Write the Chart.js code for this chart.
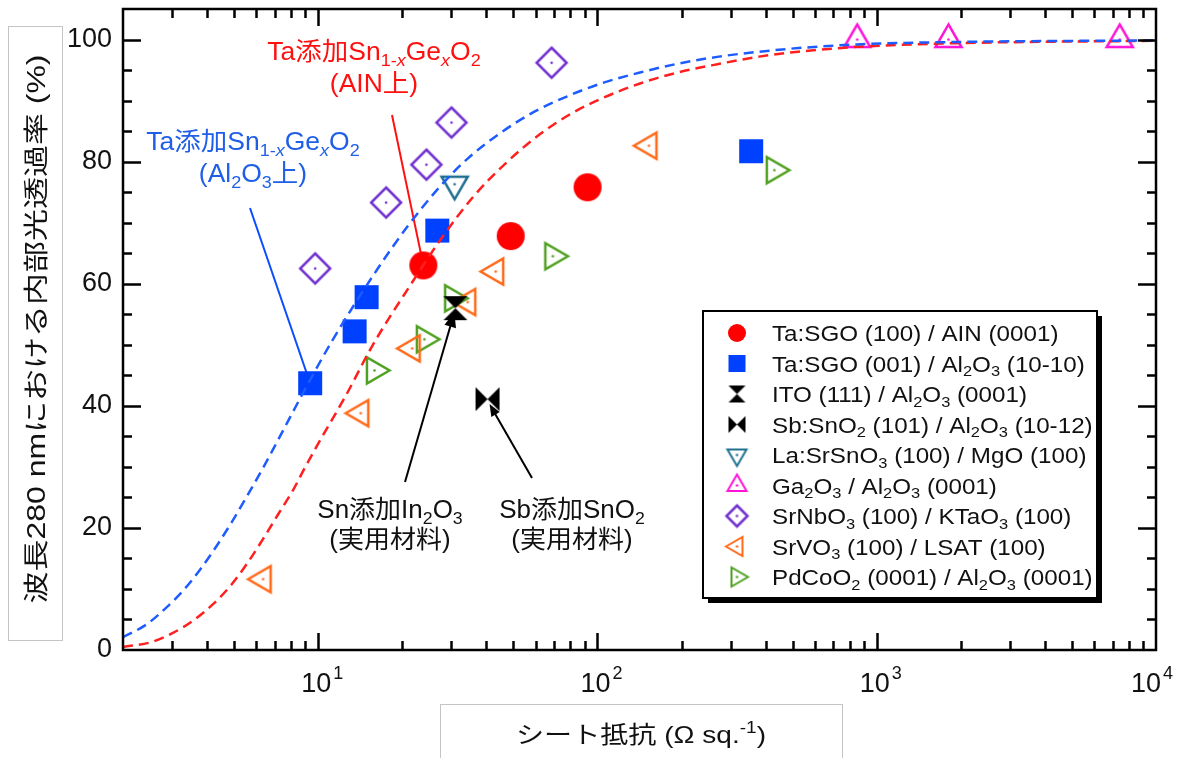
<!DOCTYPE html>
<html>
<head>
<meta charset="utf-8">
<script src="https://cdn.jsdelivr.net/npm/chart.js@4.4.1/dist/chart.umd.min.js"></script>
<style>
  html, body { margin: 0; padding: 0; background: #fff; }
</style>
</head>
<body>
<canvas id="chart" width="1184" height="758"></canvas>
<script>
// ---- data ----
const alnX = [23.8, 48.9, 92.2];
const alnY = [63.0, 67.8, 75.8];
const sapX = [9.36, 13.5, 14.9, 26.7, 355];
const sapY = [43.7, 52.2, 57.8, 68.7, 81.7];
const itoX = [31.0];
const itoY = [56.0];
const atoX = [40.4];
const atoY = [41.1];
const lsoX = [30.8];
const lsoY = [76.3];
const gaX = [851, 1807, 7413];
const gaY = [100, 100, 100];
const snoX = [9.75, 17.5, 24.4, 30.0, 68.5];
const snoY = [62.5, 73.3, 79.5, 86.4, 96.2];
const svoX = [6.35, 14.2, 21.7, 34.3, 43.2, 152.8];
const svoY = [11.6, 38.8, 49.4, 57.0, 62.0, 82.6];
const pcoX = [15.9, 24.0, 30.3, 69.2, 430];
const pcoY = [45.8, 50.9, 57.6, 64.5, 78.6];

// dashed guide curves (read point by point)
const blueCurveX = [2, 2.43, 2.82, 3.28, 3.78, 4.35, 4.91, 5.56, 6.29, 6.9, 7.74, 8.61, 11.3, 16.3, 20.9, 27.4, 34.3, 45, 59, 78, 103, 142, 197, 272, 379, 524, 851, 1930, 10000];
const blueCurveY = [2.1, 4.2, 6.7, 9.7, 13.2, 17.2, 21.0, 25.2, 29.5, 32.9, 37.2, 41.2, 50.9, 62.4, 69.4, 76.0, 80.5, 84.7, 88.1, 90.7, 92.8, 94.6, 96.1, 97.2, 98.0, 98.6, 99.2, 99.6, 99.85];
const redCurveX = [2, 2.53, 3.02, 3.56, 4.2, 4.91, 5.61, 6.35, 7.18, 8.13, 8.97, 10, 11.2, 12.5, 15.7, 21.4, 27.4, 36, 47.6, 62.7, 82.2, 103, 142, 190, 272, 379, 524, 851, 1930, 10000];
const redCurveY = [0.5, 1.3, 2.8, 4.8, 7.5, 10.8, 14.4, 18.2, 22.2, 26.2, 29.9, 33.8, 37.7, 41.5, 50.0, 59.8, 67.2, 74.3, 80.0, 84.6, 88.1, 90.3, 92.8, 94.5, 96.0, 97.2, 98.0, 98.8, 99.4, 99.8];

const legendLabels = [
  'Ta:SGO (100) / AIN (0001)',
  'Ta:SGO (001) / Al_{2}O_{3} (10-10)',
  'ITO (111) / Al_{2}O_{3} (0001)',
  'Sb:SnO_{2} (101) / Al_{2}O_{3} (10-12)',
  'La:SrSnO_{3} (100) / MgO (100)',
  'Ga_{2}O_{3} / Al_{2}O_{3} (0001)',
  'SrNbO_{3} (100) / KTaO_{3} (100)',
  'SrVO_{3} (100) / LSAT (100)',
  'PdCoO_{2} (0001) / Al_{2}O_{3} (0001)'
];

const xDecades = [10, 100, 1000, 10000];
const xDecadeExp = ['1', '2', '3', '4'];
const yLabelTicks = [0, 20, 40, 60, 80, 100];

const FONT = '"Liberation Sans", Arial, "Noto Sans CJK JP", sans-serif';
const C = {
  red: '#ff0000',
  blue: '#0040ff',
  blueDash: '#1f5cff',
  redDash: '#ff1f1f',
  purple: '#7030d0',
  orange: '#ff6a1a',
  green: '#4fa020',
  teal: '#1f7090',
  pink: '#ff14d8',
  blueText: '#1f5fe8'
};

// ---- marker images ----
function marker(kind, color, s) {
  const pad = 4;
  const R = kind.startsWith('tri') ? s * 0.58 : s / 2;
  const n = Math.ceil(2 * R + 2 * pad);
  const cv = document.createElement('canvas');
  cv.width = n; cv.height = n;
  const g = cv.getContext('2d');
  g.translate(n / 2, n / 2);
  g.fillStyle = color;
  g.strokeStyle = color;
  g.lineWidth = s > 20 ? 2.5 : 2;
  const r = s / 2;
  const dot = () => { g.beginPath(); g.arc(0, 0, 1.3, 0, Math.PI * 2); g.fill(); };
  g.beginPath();
  if (kind === 'circle') {
    g.arc(0, 0, r, 0, Math.PI * 2); g.fill();
  } else if (kind === 'square') {
    g.fillRect(-r, -r, s, s);
  } else if (kind === 'hourglass') {
    g.moveTo(-r, -r); g.lineTo(r, -r); g.lineTo(0, 0); g.closePath();
    g.moveTo(-r, r); g.lineTo(r, r); g.lineTo(0, 0); g.closePath();
    g.fill();
  } else if (kind === 'bowtie') {
    g.moveTo(-r, -r); g.lineTo(-r, r); g.lineTo(0, 0); g.closePath();
    g.moveTo(r, -r); g.lineTo(r, r); g.lineTo(0, 0); g.closePath();
    g.fill();
  } else if (kind === 'diamond') {
    g.moveTo(0, -r); g.lineTo(r, 0); g.lineTo(0, r); g.lineTo(-r, 0); g.closePath();
    g.stroke(); dot();
  } else {
    const a0 = { triUp: -90, triDown: 90, triLeft: 180, triRight: 0 }[kind] * Math.PI / 180;
    for (let i = 0; i < 3; i++) {
      const a = a0 + i * 2 * Math.PI / 3;
      if (i === 0) g.moveTo(R * Math.cos(a), R * Math.sin(a));
      else g.lineTo(R * Math.cos(a), R * Math.sin(a));
    }
    g.closePath(); g.stroke(); dot();
  }
  return cv;
}

const series = [
  { x: alnX, y: alnY, kind: 'circle', color: C.red, size: 28, lsize: 18 },
  { x: sapX, y: sapY, kind: 'square', color: C.blue, size: 24, lsize: 17 },
  { x: itoX, y: itoY, kind: 'hourglass', color: '#000', size: 24, lsize: 17 },
  { x: atoX, y: atoY, kind: 'bowtie', color: '#000', size: 24, lsize: 17 },
  { x: lsoX, y: lsoY, kind: 'triDown', color: C.teal, size: 26, lsize: 19 },
  { x: gaX, y: gaY, kind: 'triUp', color: C.pink, size: 26, lsize: 19 },
  { x: snoX, y: snoY, kind: 'diamond', color: C.purple, size: 30, lsize: 21 },
  { x: svoX, y: svoY, kind: 'triLeft', color: C.orange, size: 26, lsize: 19 },
  { x: pcoX, y: pcoY, kind: 'triRight', color: C.green, size: 26, lsize: 19 }
];

const pts = (xs, ys) => xs.map((v, i) => ({ x: v, y: ys[i] }));

// ---- rich text (sub/superscripts) ----
function parseRich(s) {
  const out = [];
  const re = /([_^])\{([^}]*)\}/g;
  let last = 0, m;
  while ((m = re.exec(s))) {
    if (m.index > last) out.push({ t: s.slice(last, m.index), mode: '' });
    const mode = m[1] === '_' ? 'sub' : 'sup';
    // italic x inside subscripts
    m[2].split(/(x)/).filter(Boolean).forEach(t => out.push({ t, mode, it: mode === 'sub' && t === 'x' }));
    last = re.lastIndex;
  }
  if (last < s.length) out.push({ t: s.slice(last), mode: '' });
  return out;
}

function richWidth(ctx, parts, size) {
  let w = 0;
  parts.forEach(p => {
    const fs = p.mode ? size * 0.68 : size;
    ctx.font = (p.it ? 'italic ' : '') + fs + 'px ' + FONT;
    w += ctx.measureText(p.t).width;
  });
  return w;
}

// sx: horizontal stretch; fitW: stretch so the text is exactly that wide
function drawRich(ctx, str, x, y, size, color, align, sx, fitW) {
  const parts = parseRich(str);
  const w = richWidth(ctx, parts, size);
  const k = fitW ? fitW / w : (sx || 1);
  ctx.save();
  ctx.translate(x, y);
  ctx.scale(k, 1);
  let cx = align === 'center' ? -w / 2 : 0;
  ctx.fillStyle = color;
  ctx.textBaseline = 'alphabetic';
  ctx.textAlign = 'left';
  parts.forEach(p => {
    const fs = p.mode ? size * 0.68 : size;
    ctx.font = (p.it ? 'italic ' : '') + fs + 'px ' + FONT;
    const dy = p.mode === 'sub' ? size * 0.22 : p.mode === 'sup' ? -size * 0.4 : 0;
    ctx.fillText(p.t, cx, dy);
    cx += ctx.measureText(p.t).width;
  });
  ctx.restore();
}

function arrow(ctx, x0, y0, x1, y1, color, head) {
  const a = Math.atan2(y1 - y0, x1 - x0);
  ctx.strokeStyle = color;
  ctx.fillStyle = color;
  ctx.lineWidth = 2;
  ctx.beginPath();
  ctx.moveTo(x0, y0);
  ctx.lineTo(x1 - Math.cos(a) * head * 0.8, y1 - Math.sin(a) * head * 0.8);
  ctx.stroke();
  if (head) {
    const bx = x1 - Math.cos(a) * head, by = y1 - Math.sin(a) * head;
    const hw = head * 0.4;
    ctx.beginPath();
    ctx.moveTo(x1, y1);
    ctx.lineTo(bx + Math.sin(a) * hw, by - Math.cos(a) * hw);
    ctx.lineTo(bx - Math.sin(a) * hw, by + Math.cos(a) * hw);
    ctx.closePath();
    ctx.fill();
  }
}

// ---- frame, inner ticks, legend, annotations ----
const decor = {
  id: 'decor',
  beforeDatasetsDraw(chart) {
    const { ctx, scales: { x, y } } = chart;
    ctx.save();
    const pa = { x: x.getPixelForValue(alnX[0]), y: y.getPixelForValue(alnY[0]) };
    const ps = { x: x.getPixelForValue(sapX[0]), y: y.getPixelForValue(sapY[0]) };
    arrow(ctx, 392, 115, pa.x, pa.y, '#ff1010', 0);
    arrow(ctx, 250, 208, ps.x, ps.y, '#0a4cff', 0);
    ctx.restore();
  },
  afterDatasetsDraw(chart) {
    const { ctx, chartArea: a, scales: { x, y } } = chart;
    ctx.save();
    // arrows to the reference materials
    const pi = { x: x.getPixelForValue(itoX[0]), y: y.getPixelForValue(itoY[0]) };
    const pb = { x: x.getPixelForValue(atoX[0]), y: y.getPixelForValue(atoY[0]) };
    arrow(ctx, 405, 482, pi.x - 1, pi.y + 4, '#000', 15);
    arrow(ctx, 532, 478, pb.x + 2, pb.y + 5, '#000', 12);

    ctx.strokeStyle = '#000';
    ctx.lineWidth = 2.5;
    ctx.strokeRect(a.left, a.top, a.right - a.left, a.bottom - a.top);
    ctx.beginPath();
    for (let v = 5; v < 105; v += 5) {
      const py = Math.round(y.getPixelForValue(v)) + 0.5;
      const len = v % 20 === 0 ? 18 : 9;
      ctx.moveTo(a.left, py); ctx.lineTo(a.left + len, py);
      ctx.moveTo(a.right, py); ctx.lineTo(a.right - len, py);
    }
    for (let d = 1; d <= 1000; d *= 10) {
      for (let k = 1; k <= 9; k++) {
        const v = d * k;
        if (v <= 2 || v >= 10000) continue;
        const px = Math.round(x.getPixelForValue(v)) + 0.5;
        const len = k === 1 ? 17 : 9;
        ctx.moveTo(px, a.bottom); ctx.lineTo(px, a.bottom - len);
        ctx.moveTo(px, a.top); ctx.lineTo(px, a.top + len);
      }
    }
    ctx.stroke();

    // legend
    const L = { x: 703, y: 311, w: 394, h: 287 };
    ctx.fillStyle = '#000';
    ctx.fillRect(L.x + 5, L.y + 5, L.w, L.h);
    ctx.fillStyle = '#fff';
    ctx.fillRect(L.x, L.y, L.w, L.h);
    ctx.lineWidth = 2;
    ctx.strokeRect(L.x, L.y, L.w, L.h);
    series.forEach((s, i) => {
      const ry = 333 + i * 30.5;
      const img = marker(s.kind, s.color, s.lsize);
      ctx.drawImage(img, 737 - img.width / 2, ry - img.height / 2);
      drawRich(ctx, legendLabels[i], 772, ry + 8, 22, '#111', 'left', 1.1);
    });
    ctx.restore();
  },
  afterDraw(chart) {
    const { ctx, scales: { x } } = chart;
    ctx.save();
    // x tick labels 10^n
    xDecades.forEach((v, i) => {
      const px = x.getPixelForValue(v) - (i === xDecades.length - 1 ? 10 : 2);
      ctx.fillStyle = '#111';
      ctx.textBaseline = 'alphabetic';
      ctx.font = '27px ' + FONT;
      ctx.textAlign = 'center';
      ctx.fillText('10', px, 692);
      ctx.font = '18px ' + FONT;
      ctx.textAlign = 'left';
      ctx.fillText(xDecadeExp[i], px + 17, 679);
    });

    // axis title boxes
    ctx.strokeStyle = '#c4c4c4';
    ctx.lineWidth = 1;
    ctx.strokeRect(8.5, 26.5, 54, 614);
    ctx.strokeRect(440.5, 704.5, 402, 60);

    // y title (rotated)
    ctx.save();
    ctx.translate(45, 329);
    ctx.rotate(-Math.PI / 2);
    drawRich(ctx, '波長280 nmにおける内部光透過率 (%)', 0, 0, 25, '#111', 'center', 0, 549);
    ctx.restore();
    // x title
    drawRich(ctx, 'シート抵抗 (Ω sq.^{-1})', 641, 743, 24, '#111', 'center', 0, 250);

    // annotations
    drawRich(ctx, 'Ta添加Sn_{1-x}Ge_{x}O_{2}', 374, 60, 25, '#ff1010', 'center', 1.06);
    drawRich(ctx, '(AIN上)', 374, 92, 25, '#ff1010', 'center', 1.06);
    drawRich(ctx, 'Ta添加Sn_{1-x}Ge_{x}O_{2}', 253, 150, 25, C.blueText, 'center', 1.06);
    drawRich(ctx, '(Al_{2}O_{3}上)', 253, 182, 25, C.blueText, 'center', 1.06);
    drawRich(ctx, 'Sn添加In_{2}O_{3}', 390, 518, 25, '#111', 'center', 1.04);
    drawRich(ctx, '(実用材料)', 390, 548, 25, '#111', 'center', 1.04);
    drawRich(ctx, 'Sb添加SnO_{2}', 572, 518, 25, '#111', 'center', 1.04);
    drawRich(ctx, '(実用材料)', 572, 548, 25, '#111', 'center', 1.04);
    ctx.restore();
  }
};

const datasets = [
  {
    type: 'line', data: pts(blueCurveX, blueCurveY), borderColor: C.blueDash,
    borderWidth: 2.5, borderDash: [10, 6], pointRadius: 0, showLine: true,
    cubicInterpolationMode: 'monotone', fill: false
  },
  {
    type: 'line', data: pts(redCurveX, redCurveY), borderColor: C.redDash,
    borderWidth: 2.5, borderDash: [10, 6], pointRadius: 0, showLine: true,
    cubicInterpolationMode: 'monotone', fill: false
  }
].concat(series.map(s => ({
  type: 'scatter',
  data: pts(s.x, s.y),
  pointStyle: marker(s.kind, s.color, s.size),
  pointRadius: s.size / 2,
  showLine: false
})));

new Chart(document.getElementById('chart'), {
  type: 'scatter',
  data: { datasets },
  options: {
    responsive: false,
    animation: false,
    devicePixelRatio: 1,
    layout: { autoPadding: false, padding: { top: 9, right: 28, bottom: 108, left: 0 } },
    scales: {
      x: { type: 'logarithmic', min: 2, max: 10000, display: false },
      y: {
        min: 0, max: 105,
        grid: { display: false, drawTicks: false },
        border: { display: false },
        afterFit(scale) {
          scale.width = 123;
          scale.paddingTop = 0;
          scale.paddingBottom = 0;
        },
        ticks: {
          stepSize: 5,
          autoSkip: false,
          padding: 11,
          color: '#111',
          font: { family: FONT, size: 27 },
          callback: v => (yLabelTicks.includes(v) ? String(v) : '')
        }
      }
    },
    plugins: { legend: { display: false }, tooltip: { enabled: false } }
  },
  plugins: [decor]
});
</script>
</body>
</html>
